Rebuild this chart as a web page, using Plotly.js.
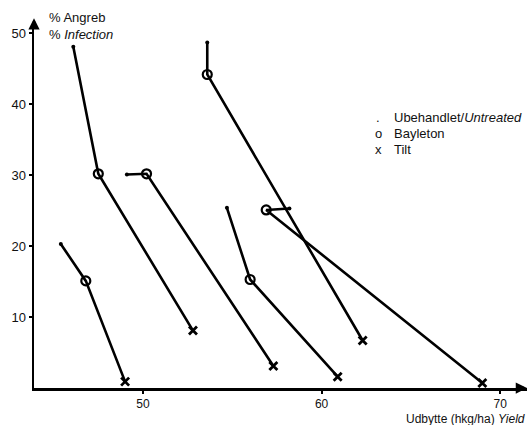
<!DOCTYPE html>
<html>
<head>
<meta charset="utf-8">
<script src="https://cdn.plot.ly/plotly-3.0.1.min.js"></script>
<style>html,body{margin:0;padding:0;background:#fff;}#chart{width:530px;height:425px;}</style>
</head>
<body>
<div id="chart"></div>
<script>
// Each trial: Untreated -> Bayleton -> Tilt
const untreatedX = [46.1, 45.4, 49.1, 53.6, 54.7, 58.2];
const untreatedY = [48.1, 20.3, 30.1, 48.7, 25.4, 25.3];
const bayletonX  = [47.5, 46.8, 50.2, 53.6, 56.0, 56.9];
const bayletonY  = [30.2, 15.1, 30.2, 44.2, 15.3, 25.1];
const tiltX      = [52.8, 49.0, 57.3, 62.3, 60.9, 69.0];
const tiltY      = [8.1, 0.9, 3.1, 6.7, 1.6, 0.7];
const xTicks = [50, 60, 70];
const yTicks = [10, 20, 30, 40, 50];
const seriesNames = ['Ubehandlet/<i>Untreated</i>', 'Bayleton', 'Tilt'];
const seriesGlyphs = ['.', 'o', 'x'];

const FONT = 'Liberation Sans, Arial, Helvetica, sans-serif';
const FS = 13;
const traces = [];
for (let i = 0; i < untreatedX.length; i++) {
  traces.push({
    x: [untreatedX[i], bayletonX[i], tiltX[i]],
    y: [untreatedY[i], bayletonY[i], tiltY[i]],
    mode: 'lines', type: 'scatter', showlegend: false, hoverinfo: 'skip',
    line: {color: '#000', width: 2.6}
  });
}
traces.push({x: untreatedX, y: untreatedY, mode: 'markers', name: seriesNames[0], showlegend: false,
  marker: {symbol: 'circle', size: 4, color: '#000'}});
traces.push({x: bayletonX, y: bayletonY, mode: 'markers', name: seriesNames[1], showlegend: false,
  marker: {symbol: 'circle-open', size: 9, color: '#000', line: {width: 2.2, color: '#000'}}});
traces.push({x: tiltX, y: tiltY, mode: 'markers', name: seriesNames[2], showlegend: false,
  marker: {symbol: 'x-thin-open', size: 8, color: '#000', line: {width: 2.8, color: '#000'}}});

const annotations = [
  {xref: 'paper', yref: 'paper', x: 0, y: 1.01, ax: 0, ay: 12, showarrow: true, text: '',
   arrowhead: 2, arrowsize: 0.9, arrowwidth: 2.5, arrowcolor: '#000'},
  {xref: 'paper', yref: 'paper', x: 1.0, y: 0, ax: -12, ay: 0, showarrow: true, text: '',
   arrowhead: 2, arrowsize: 0.9, arrowwidth: 2.5, arrowcolor: '#000'},
  {xref: 'paper', yref: 'paper', x: 0.026, y: 1.011, xanchor: 'left', yanchor: 'middle', showarrow: false,
   text: '% Angreb', font: {family: FONT, size: FS, color: '#111'}},
  {xref: 'paper', yref: 'paper', x: 0.026, y: 0.967, xanchor: 'left', yanchor: 'middle', showarrow: false,
   text: '% <i>Infection</i>', font: {family: FONT, size: FS, color: '#111'}},
  {xref: 'paper', yref: 'paper', x: 1.0, y: -0.0845, xanchor: 'right', yanchor: 'middle', showarrow: false,
   text: 'Udbytte (hkg/ha) <i>Yield</i>', font: {family: FONT, size: 12, color: '#111'}}
];
const legendY = [0.7404, 0.6967, 0.653];
for (let i = 0; i < seriesNames.length; i++) {
  annotations.push({xref: 'paper', yref: 'paper', x: 0.698, y: legendY[i], xanchor: 'center', yanchor: 'middle',
    showarrow: false, text: seriesGlyphs[i], font: {family: FONT, size: FS, color: '#111'}});
  annotations.push({xref: 'paper', yref: 'paper', x: 0.726, y: legendY[i], xanchor: 'left', yanchor: 'middle',
    showarrow: false, text: seriesNames[i], font: {family: FONT, size: FS, color: '#111'}});
}

const layout = {
  width: 530, height: 425,
  margin: {l: 34, r: 3, t: 22, b: 37},
  paper_bgcolor: '#fff', plot_bgcolor: '#fff',
  font: {family: FONT, color: '#111', size: FS},
  showlegend: false,
  xaxis: {range: [43.9, 71.5], showgrid: false, zeroline: false, showline: true,
    linecolor: '#000', linewidth: 2.5, ticks: 'outside', ticklen: 3, tickwidth: 2, tickcolor: '#000',
    tickvals: xTicks, ticktext: xTicks.map(String), tickfont: {family: FONT, size: 12, color: '#111'}},
  yaxis: {range: [0, 51.6], showgrid: false, zeroline: false, showline: true,
    linecolor: '#000', linewidth: 2.5, ticks: 'outside', ticklen: 3, tickwidth: 2, tickcolor: '#000',
    tickvals: yTicks, ticktext: yTicks.map(String), tickfont: {family: FONT, size: FS, color: '#111'}},
  annotations: annotations
};
Plotly.newPlot('chart', traces, layout, {staticPlot: true, displayModeBar: false});
</script>
</body>
</html>
